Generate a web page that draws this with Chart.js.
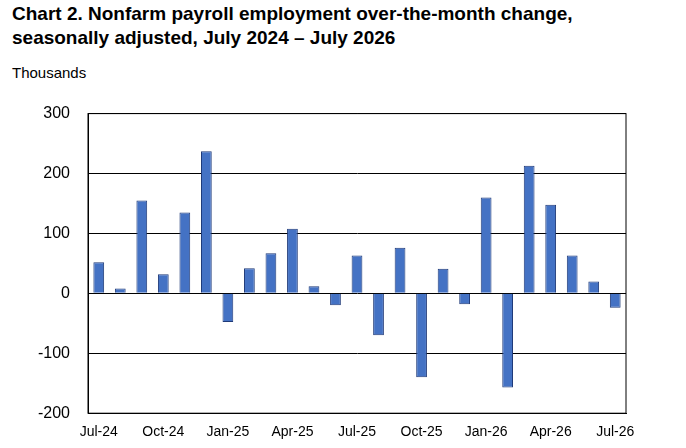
<!DOCTYPE html>
<html>
<head>
<meta charset="utf-8">
<script src="https://cdn.jsdelivr.net/npm/chart.js@4"></script>
<style>
  body { margin: 0; background: #fff; font-family: "Liberation Sans", Arial, sans-serif; }
  #wrap { position: relative; width: 686px; height: 448px; }
  #title { position: absolute; left: 12px; top: 2px; font-size: 19px; font-weight: bold; line-height: 24px; color: #000; }
  #units { position: absolute; left: 12px; top: 64px; font-size: 15px; color: #000; }
  #box { position: absolute; left: 0; top: 86px; width: 686px; height: 360px; }
</style>
</head>
<body>
<div id="wrap">
  <div id="title">Chart 2. Nonfarm payroll employment over-the-month change,<br>seasonally adjusted, July 2024 – July 2026</div>
  <div id="units">Thousands</div>
  <div id="box"><canvas id="c"></canvas></div>
</div>
<script>
const months = ['Jul-24','Aug-24','Sep-24','Oct-24','Nov-24','Dec-24','Jan-25','Feb-25','Mar-25','Apr-25','May-25','Jun-25',
  'Jul-25','Aug-25','Sep-25','Oct-25','Nov-25','Dec-25','Jan-26','Feb-26','Mar-26','Apr-26','May-26','Jun-26','Jul-26'];
const change = [52, 8, 155, 32, 135, 237, -48, 42, 67, 108, 12, -20,
  63, -70, 76, -140, 41, -18, 160, -157, 213, 148, 63, 20, -24];

new Chart(document.getElementById('c'), {
  type: 'bar',
  data: {
    labels: months,
    datasets: [{
      data: change,
      backgroundColor: '#4472C4',
      borderColor: '#1F3A78',
      borderWidth: 1,
      barPercentage: 0.5,
      categoryPercentage: 1
    }]
  },
  options: {
    responsive: true,
    maintainAspectRatio: false,
    animation: false,
    layout: { padding: { top: 9, right: 60, bottom: 2, left: 0 } },
    plugins: { legend: { display: false }, tooltip: { enabled: false } },
    scales: {
      x: {
        grid: { display: false },
        border: { color: '#000' },
        ticks: {
          autoSkip: false, maxRotation: 0, color: '#000',
          font: { family: 'Liberation Sans', size: 14 },
          callback: function (v, i) { return i % 3 === 0 ? this.getLabelForValue(i) : null; }
        }
      },
      y: {
        min: -200, max: 300,
        afterFit: (s) => { s.width = 88; },
        grid: { color: '#000', drawTicks: false },
        border: { color: '#000' },
        ticks: { stepSize: 100, color: '#000', padding: 18, font: { family: 'Liberation Sans', size: 16 } }
      }
    }
  },
  plugins: [{
    id: 'frame',
    afterDraw(chart) {
      const { ctx, chartArea: a } = chart;
      ctx.save();
      ctx.strokeStyle = '#000';
      ctx.lineWidth = 1;
      ctx.strokeRect(a.left, a.top, a.right - a.left, a.bottom - a.top);
      ctx.restore();
    }
  }]
});
</script>
</body>
</html>
